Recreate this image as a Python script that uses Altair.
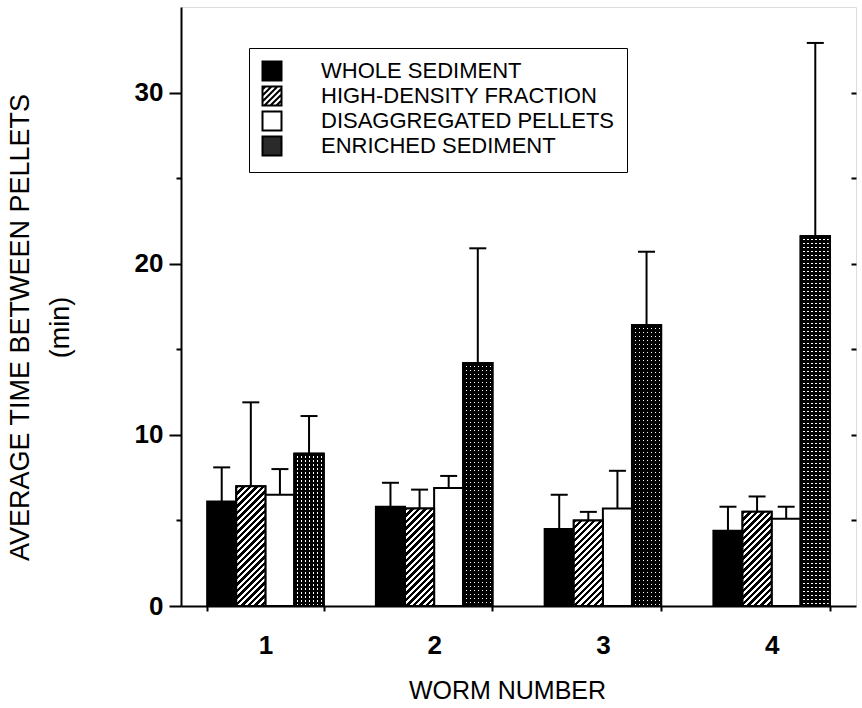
import altair as alt
import pandas as pd

# ---------------- data ----------------
groups = ["1", "2", "3", "4"]
series = ["WHOLE SEDIMENT", "HIGH-DENSITY FRACTION", "DISAGGREGATED PELLETS", "ENRICHED SEDIMENT"]
whole_mean = [6.1, 5.8, 4.5, 4.4]
whole_err = [2.0, 1.4, 2.0, 1.4]
hd_mean = [7.0, 5.7, 5.0, 5.5]
hd_err = [4.9, 1.1, 0.5, 0.9]
disagg_mean = [6.5, 6.9, 5.7, 5.1]
disagg_err = [1.5, 0.7, 2.2, 0.7]
enr_mean = [8.9, 14.2, 16.4, 21.6]
enr_err = [2.2, 6.7, 4.3, 11.3]
y_major = [0, 10, 20, 30]
y_minor = [5, 15, 25]
y_right = [5, 10, 15, 20, 25, 30]

means = [whole_mean, hd_mean, disagg_mean, enr_mean]
errs = [whole_err, hd_err, disagg_err, enr_err]
rows = []
for s, m, e in zip(series, means, errs):
    for g, mv, ev in zip(groups, m, e):
        rows.append({"group": g, "series": s, "mean": mv, "upper": round(mv + ev, 3)})
df = pd.DataFrame(rows)

HD = series[1]
ENR = series[3]

# ---------------- layout ----------------
W, H = 675, 599
YMAX = 35
PX = H / YMAX
PAD_IN = 0.31
BAR_W = W / 4 * (1 - PAD_IN) / 4
FONT = "Liberation Sans"


def hatch_gradient(w, h, period=6.5, frac=0.5):
    s = w + h
    a = s / (w * w + h * h)
    dt = period / s
    stops = []
    k = 0
    while k * dt < 1:
        a0 = k * dt
        a1 = min(a0 + frac * dt, 1)
        a2 = min((k + 1) * dt, 1)
        stops += [{"offset": a0, "color": "black"}, {"offset": a1, "color": "black"},
                  {"offset": a1, "color": "white"}, {"offset": a2, "color": "white"}]
        k += 1
    return {"gradient": "linear", "x1": 0, "y1": 0, "x2": a * w, "y2": a * h, "stops": stops}


def stripe_gradient(length, horizontal, period=4.0, gap=1.3, dark="black", light="white"):
    dt = period / length
    g = gap / length
    stops = []
    k = 0
    while k * dt < 1:
        a0 = k * dt
        a1 = min(a0 + (dt - g), 1)
        a2 = min((k + 1) * dt, 1)
        stops += [{"offset": a0, "color": dark}, {"offset": a1, "color": dark},
                  {"offset": a1, "color": light}, {"offset": a2, "color": light}]
        k += 1
    if horizontal:
        return {"gradient": "linear", "x1": 0, "y1": 0, "x2": 1, "y2": 0, "stops": stops}
    return {"gradient": "linear", "x1": 0, "y1": 0, "x2": 0, "y2": 1, "stops": stops}


def square_path():
    return "M-1,-1H1V1H-1Z"


def hatch_path(step=0.63):
    p = square_path()
    c = -2 + step / 2
    while c < 2:
        if c <= 0:
            p += f"M-1,{c + 1:.3f}L{c + 1:.3f},-1"
        else:
            p += f"M{c - 1:.3f},1L1,{c - 1:.3f}"
        c += step
    return p


x_axis = alt.Axis(title="WORM NUMBER", labelAngle=0, tickBand="extent", tickSize=5, tickWidth=2,
                  domainWidth=2, domainColor="black", tickColor="black", labelFontSize=26,
                  labelFontWeight="bold", labelPadding=21, labelColor="black", labelFont=FONT,
                  titleFont=FONT, titleFontSize=25, titleFontWeight="normal", titleColor="black",
                  titleX=326, titleY=84, titleBaseline="middle", titleAlign="center", grid=False)
x_enc = alt.X("group:N", sort=groups,
              scale=alt.Scale(domain=groups, paddingInner=PAD_IN, paddingOuter=PAD_IN / 2),
              axis=x_axis)
xo_enc = alt.XOffset("series:N", sort=series,
                     scale=alt.Scale(domain=series, paddingInner=0, paddingOuter=0))
y_scale = alt.Scale(domain=[0, YMAX], nice=False, zero=True)

y_axis_main = alt.Axis(orient="left", values=y_major, tickSize=12, tickWidth=2, domainWidth=2,
                       domainColor="black", tickColor="black", labelFontSize=26,
                       labelFontWeight="bold", labelPadding=6, labelColor="black", labelFont=FONT,
                       title=["AVERAGE TIME BETWEEN PELLETS", "(min)"], titleFont=FONT,
                       titleFontSize=27, titleFontWeight="normal", titleColor="black",
                       titleAngle=-90, titleX=-174, titleY=320, titleAlign="center",
                       titleBaseline="top", titleLineHeight=40, grid=False)
y_axis_minor = alt.Axis(orient="left", values=y_minor, tickSize=5, tickWidth=2, tickColor="black",
                        labels=False, domain=False, title=None, grid=False)
y_axis_right = alt.Axis(orient="right", values=y_right, tickSize=5, tickWidth=2, tickColor="black",
                        labels=False, domain=False, title=None, grid=False, offset=-5)

legend = alt.Legend(
    title=None, orient="none", legendX=68, legendY=41, symbolSize=361,
    symbolStrokeColor="black", symbolStrokeWidth=2, labelFontSize=22, labelFont=FONT,
    labelColor="black", labelOffset=38, labelLimit=500, rowPadding=-3, padding=12,
    strokeColor="black", fillColor="white",
)
fill_scale = alt.Scale(domain=series, range=["black", "white", "white", "#2a2a2a"])
shape_scale = alt.Scale(domain=series,
                        range=[square_path(), hatch_path(), square_path(), square_path()])

base = alt.Chart(df)

layers = []
bars = base.mark_bar(stroke="black", strokeWidth=2).encode(
    x=x_enc, xOffset=xo_enc,
    y=alt.Y("mean:Q", scale=y_scale, stack=None, axis=y_axis_main),
    fill=alt.Fill("series:N", sort=series, scale=fill_scale, legend=legend),
)
layers.append(bars)

for g, mv in zip(groups, hd_mean):
    grad = hatch_gradient(BAR_W, mv * PX)
    layers.append(
        base.transform_filter(f"datum.series === '{HD}' && datum.group === '{g}'")
        .mark_bar(stroke="black", strokeWidth=2)
        .encode(x=x_enc, xOffset=xo_enc,
                y=alt.Y("mean:Q", scale=y_scale, stack=None, axis=None),
                fill=alt.value(grad))
    )

col_grad = stripe_gradient(BAR_W, True, period=4.0, gap=1.3, dark="black", light="white")
layers.append(
    base.transform_filter(f"datum.series === '{ENR}'")
    .mark_bar(stroke="black", strokeWidth=2)
    .encode(x=x_enc, xOffset=xo_enc,
            y=alt.Y("mean:Q", scale=y_scale, stack=None, axis=None),
            fill=alt.value(col_grad))
)
for g, mv in zip(groups, enr_mean):
    rgrad = stripe_gradient(mv * PX, False, period=4.0, gap=1.3, dark="black", light="transparent")
    layers.append(
        base.transform_filter(f"datum.series === '{ENR}' && datum.group === '{g}'")
        .mark_bar(stroke="black", strokeWidth=2)
        .encode(x=x_enc, xOffset=xo_enc,
                y=alt.Y("mean:Q", scale=y_scale, stack=None, axis=None),
                fill=alt.value(rgrad))
    )

rules = base.mark_rule(color="black", strokeWidth=2).encode(
    x=x_enc, xOffset=xo_enc,
    y=alt.Y("mean:Q", scale=y_scale, stack=None, axis=y_axis_minor),
    y2="upper:Q",
)
layers.append(rules)

caps = base.mark_tick(orient="horizontal", size=17, thickness=2, color="black", opacity=1).encode(
    x=x_enc, xOffset=xo_enc,
    y=alt.Y("upper:Q", scale=y_scale, stack=None, axis=y_axis_right),
)
layers.append(caps)

# legend-only layer (no marks drawn: filtered to nothing), supplies per-entry symbol shapes
legend_layer = base.transform_filter("false").mark_point(
    filled=True, stroke="black", strokeWidth=2, size=361, opacity=1
).encode(
    x=x_enc, xOffset=xo_enc,
    y=alt.Y("mean:Q", scale=y_scale, stack=None, axis=None),
    fill=alt.Fill("series:N", sort=series, scale=fill_scale, legend=legend),
    shape=alt.Shape("series:N", sort=series, scale=shape_scale, legend=legend),
)
layers.append(legend_layer)

chart = (
    alt.layer(*layers)
    .resolve_axis(y="independent")
    .properties(width=W, height=H, autosize=alt.AutoSizeParams(type="none"),
                padding={"left": 181, "top": 7, "right": 6, "bottom": 102},
                background="white")
    .configure_view(stroke="black", strokeWidth=2)
    .configure_legend(strokeWidth=2)
    .configure(font=FONT)
)

chart.save("out.html", embed_options={"renderer": "svg", "actions": False})
